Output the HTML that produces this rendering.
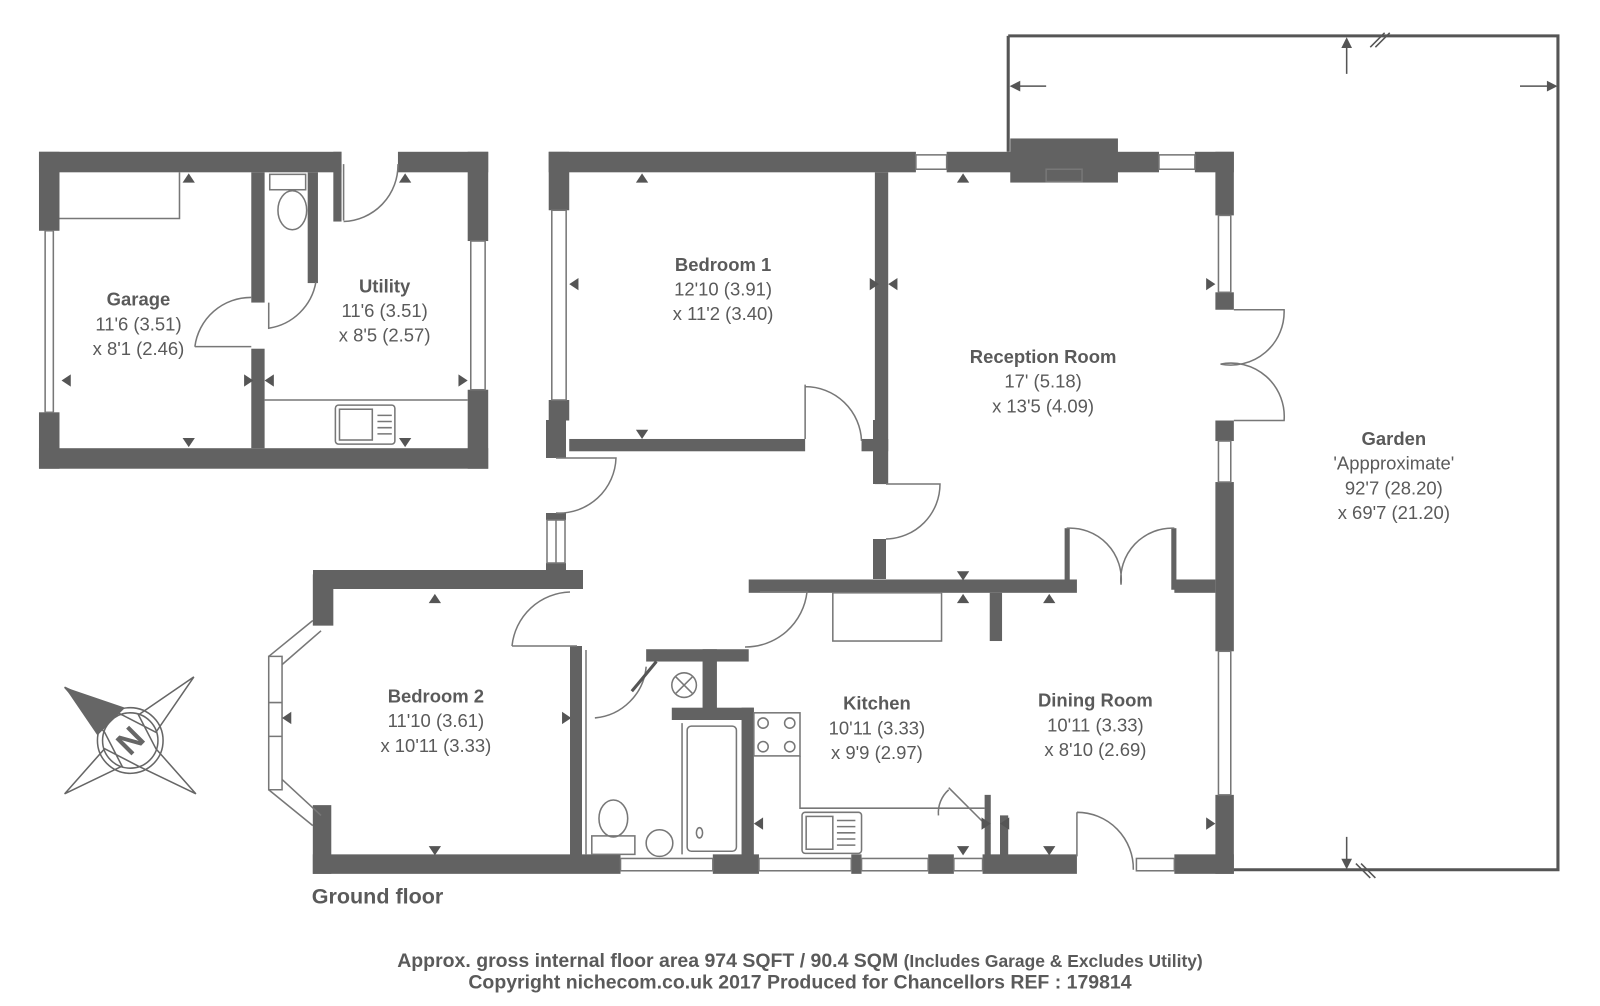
<!DOCTYPE html>
<html><head><meta charset="utf-8"><style>
html,body{margin:0;padding:0;background:#fff;}
svg{display:block;}
text{font-family:"Liberation Sans",sans-serif;fill:#5a5a5a;}
.t{font-size:18px;font-weight:bold;}
.d{font-size:18px;}
</style></head><body>
<svg width="1600" height="1006" viewBox="0 0 1600 1006" xmlns="http://www.w3.org/2000/svg">
<defs>
<path id="au" d="M-6 0 L6 0 L0 -9Z"/>
</defs>
<g transform="scale(1.02564)">
<g fill="#626262">
<rect x="38" y="148" width="295" height="20"/>
<rect x="388" y="148" width="88" height="20"/>
<rect x="38" y="148" width="20" height="77"/>
<rect x="38" y="402" width="20" height="55"/>
<rect x="38" y="437" width="438" height="20"/>
<rect x="456" y="148" width="20" height="87"/>
<rect x="456" y="380" width="20" height="77"/>
<rect x="245" y="168" width="13" height="127"/>
<rect x="245" y="340" width="13" height="97"/>
<rect x="300" y="168" width="10" height="108"/>
<rect x="325" y="148" width="8" height="68"/>
<rect x="535" y="148" width="358" height="20"/>
<rect x="923" y="148" width="207" height="20"/>
<rect x="1165" y="148" width="38" height="20"/>
<rect x="985" y="135" width="105" height="43"/>
<rect x="535" y="148" width="20" height="57"/>
<rect x="535" y="390" width="20" height="20"/>
<rect x="555" y="428" width="230" height="12"/>
<rect x="840" y="428" width="26" height="12"/>
<rect x="853" y="168" width="13" height="304"/>
<rect x="1185" y="148" width="18" height="62"/>
<rect x="1185" y="285" width="18" height="17"/>
<rect x="1185" y="410" width="18" height="20"/>
<rect x="1185" y="470" width="18" height="165"/>
<rect x="1185" y="775" width="18" height="77"/>
<rect x="305" y="560" width="20" height="50"/>
<rect x="305" y="785" width="18" height="67"/>
<rect x="305" y="833" width="300" height="19"/>
<rect x="730" y="565" width="320" height="13"/>
<rect x="1145" y="565" width="40" height="13"/>
<rect x="965" y="578" width="12" height="47"/>
<rect x="1038" y="515" width="5" height="60"/>
<rect x="1142" y="515" width="5" height="60"/>
<rect x="630" y="633" width="100" height="12"/>
<rect x="685" y="633" width="14" height="60"/>
<rect x="655" y="690" width="80" height="12"/>
<rect x="723" y="690" width="12" height="145"/>
<rect x="695" y="833" width="45" height="19"/>
<rect x="830" y="833" width="10" height="19"/>
<rect x="905" y="833" width="25" height="19"/>
<rect x="958" y="833" width="92" height="19"/>
<rect x="1145" y="833" width="58" height="19"/>
<rect x="960" y="775" width="6" height="60"/>
<rect x="975" y="795" width="8" height="40"/>
</g>
<g fill="none" stroke="#777" stroke-width="1.5">
<rect x="44" y="225" width="8" height="177"/>
<rect x="459" y="235" width="14" height="145"/>
<rect x="538" y="205" width="14" height="185"/>
<rect x="893" y="151" width="30" height="14"/>
<rect x="1130" y="151" width="35" height="14"/>
<rect x="1188" y="210" width="12" height="75"/>
<rect x="1188" y="430" width="12" height="40"/>
<rect x="1188" y="635" width="12" height="140"/>
<rect x="605" y="837" width="90" height="12"/>
<rect x="740" y="837" width="90" height="12"/>
<rect x="840" y="837" width="65" height="12"/>
<rect x="930" y="837" width="28" height="12"/>
<rect x="1108" y="837" width="37" height="12"/>
<rect x="1020" y="165" width="35" height="12"/>
<path d="M262 640 L275 640 L275 770 L262 770Z M262 685 L275 685 M262 718 L275 718"/>
<path d="M262 640 L305 605 M275 648 L313 615 M262 770 L305 805 M275 760 L313 795"/>
<path d="M58 213 L175 213 L175 168"/>
<rect x="263" y="170" width="35" height="15"/>
<ellipse cx="285" cy="205" rx="14" ry="19"/>
<path d="M258 390 L456 390"/>
<rect x="327" y="395" width="58" height="38" rx="3"/><rect x="331" y="399" width="32" height="30"/>
<path d="M368 405 h14 M368 411 h14 M368 417 h14 M368 423 h14"/>
<path d="M190 338 L245 338 M190 338 A55 55 0 0 1 245 290"/>
<path d="M262 295 L262 320 A55 55 0 0 0 308 275"/>
<path d="M335 215 L335 160 M335 216 A55 55 0 0 0 388 160"/>
<path d="M785 428 L785 375 M785 377 A55 55 0 0 1 840 430"/>
<path d="M1203 302 L1252 302 A52 52 0 0 1 1190 355 M1203 410 L1252 410 A52 52 0 0 0 1190 355"/>
<path d="M1040 515 A50 50 0 0 1 1093 570 M1145 515 A50 50 0 0 0 1093 570"/>
<rect x="812" y="578" width="106" height="47"/>
<path d="M580 700 A55 55 0 0 0 630 650"/>
<path d="M640 645 L616 674" stroke-width="3" stroke="#555"/>
<circle cx="667" cy="668" r="12"/><path d="M659 660 L675 676 M675 660 L659 676"/>
<rect x="670" y="708" width="48" height="122" rx="4"/>
<ellipse cx="682" cy="812" rx="3" ry="5"/>
<path d="M665 705 L665 833"/>
<rect x="735" y="695" width="45" height="42"/>
<circle cx="744" cy="705" r="5"/><circle cx="770" cy="705" r="5"/><circle cx="744" cy="728" r="5"/><circle cx="770" cy="728" r="5"/>
<path d="M780 737 L780 788 L960 788"/>
<rect x="782" y="792" width="58" height="40" rx="3"/><rect x="786" y="796" width="26" height="32"/>
<path d="M816 800 h18 M816 806 h18 M816 812 h18 M816 818 h18 M816 824 h18"/>
<ellipse cx="598" cy="798" rx="14" ry="18"/><rect x="577" y="815" width="42" height="18"/>
<circle cx="643" cy="822" r="13"/>
<path d="M1050 792 A55 55 0 0 1 1105 848 M1050 792 L1050 835"/>
<path d="M925 768 L962 805 M925 770 A30 30 0 0 0 915 795"/>
</g>
<g fill="none" stroke="#555" stroke-width="3">
<path d="M983 35 L1519 35 L1519 848 L1203 848 M983 35 L983 148"/>
</g>
<g stroke="#555" stroke-width="1.5" fill="#555">
<path d="M990 84 L1020 84 M1482 84 L1513 84 M1313 40 L1313 72 M1313 816 L1313 844"/>
<path d="M986 84 l8 -4 v8z M1517 84 l-8 -4 v8z M1313 38 l-4 8 h8z M1313 846 l-4 -8 h8z"/>
<path d="M1336 46 l14 -14 M1341 46 l14 -14 M1336 856 l-14 -14 M1341 856 l-14 -14" fill="none"/>
</g>
<g fill="#555">
<use href="#au" x="184" y="178"/><use href="#au" x="626" y="178"/><use href="#au" x="939" y="178"/><use href="#au" x="395" y="178"/>
<use href="#au" x="424" y="588"/><use href="#au" x="939" y="588"/><use href="#au" x="1023" y="588"/>
<g transform="rotate(180)"><use href="#au" x="-184" y="-427"/><use href="#au" x="-395" y="-427"/><use href="#au" x="-626" y="-419"/><use href="#au" x="-939" y="-557"/><use href="#au" x="-424" y="-825"/><use href="#au" x="-1023" y="-825"/><use href="#au" x="-939" y="-825"/></g>
<path d="M60 371 l9 -6 v12z M247 371 l-9 -6 v12z M258 371 l9 -6 v12z M456 371 l-9 -6 v12z"/>
<path d="M555 277 l9 -6 v12z M857 277 l-9 -6 v12z M866 277 l9 -6 v12z M1185 277 l-9 -6 v12z"/>
<path d="M275 700 l9 -6 v12z M557 700 l-9 -6 v12z M735 803 l9 -6 v12z M966 803 l-9 -6 v12z M975 803 l9 -6 v12z M1185 803 l-9 -6 v12z"/>
</g>
<g transform="translate(127,722)">
<g fill="none" stroke="#666" stroke-width="1.5">
<path d="M-64 -52 L-8 -25 L25 -8 L62 -62 L8 -25 L25 8 L64 52 L8 25 L-25 8 L-64 52 L-8 25 L-25 -8Z"/>
<circle r="32"/><circle r="27"/>
</g>
<path d="M-64 -52 L-5 -32 L-32 -5Z" fill="#666"/>
<text x="0" y="11" text-anchor="middle" transform="rotate(-45)" style="font-size:32px;font-weight:bold;fill:#666">N</text>
</g>
<text class="t" x="135" y="298" text-anchor="middle">Garage</text>
<text class="d" x="135" y="322" text-anchor="middle">11'6 (3.51)</text>
<text class="d" x="135" y="346" text-anchor="middle">x 8'1 (2.46)</text>
<text class="t" x="375" y="285" text-anchor="middle">Utility</text>
<text class="d" x="375" y="309" text-anchor="middle">11'6 (3.51)</text>
<text class="d" x="375" y="333" text-anchor="middle">x 8'5 (2.57)</text>
<text class="t" x="705" y="264" text-anchor="middle">Bedroom 1</text>
<text class="d" x="705" y="288" text-anchor="middle">12'10 (3.91)</text>
<text class="d" x="705" y="312" text-anchor="middle">x 11'2 (3.40)</text>
<text class="t" x="1017" y="354" text-anchor="middle">Reception Room</text>
<text class="d" x="1017" y="378" text-anchor="middle">17' (5.18)</text>
<text class="d" x="1017" y="402" text-anchor="middle">x 13'5 (4.09)</text>
<text class="t" x="1359" y="434" text-anchor="middle">Garden</text>
<text class="d" x="1359" y="458" text-anchor="middle">'Appproximate'</text>
<text class="d" x="1359" y="482" text-anchor="middle">92'7 (28.20)</text>
<text class="d" x="1359" y="506" text-anchor="middle">x 69'7 (21.20)</text>
<text class="t" x="425" y="685" text-anchor="middle">Bedroom 2</text>
<text class="d" x="425" y="709" text-anchor="middle">11'10 (3.61)</text>
<text class="d" x="425" y="733" text-anchor="middle">x 10'11 (3.33)</text>
<text class="t" x="855" y="692" text-anchor="middle">Kitchen</text>
<text class="d" x="855" y="716" text-anchor="middle">10'11 (3.33)</text>
<text class="d" x="855" y="740" text-anchor="middle">x 9'9 (2.97)</text>
<text class="t" x="1068" y="689" text-anchor="middle">Dining Room</text>
<text class="d" x="1068" y="713" text-anchor="middle">10'11 (3.33)</text>
<text class="d" x="1068" y="737" text-anchor="middle">x 8'10 (2.69)</text>
<text x="304" y="881" style="font-size:21px;font-weight:bold">Ground floor</text>
<text x="780" y="943" text-anchor="middle" style="font-size:19px;font-weight:bold">Approx. gross internal floor area 974 SQFT / 90.4 SQM <tspan style="font-size:17px">(Includes Garage &amp; Excludes Utility)</tspan></text>
<text x="780" y="964" text-anchor="middle" style="font-size:19px;font-weight:bold">Copyright nichecom.co.uk 2017 Produced for Chancellors REF : 179814</text>
</g>
<g fill="#626262">
<rect x="313" y="570" width="270" height="19"/>
<rect x="546" y="420" width="20" height="38"/>
<rect x="546" y="513" width="20" height="7"/>
<rect x="546" y="563" width="20" height="12"/>
<rect x="570" y="646" width="12" height="210"/>
<rect x="873" y="420" width="13" height="64"/>
<rect x="873" y="539" width="13" height="40"/>
</g>
<g fill="none" stroke="#777" stroke-width="1.5">
<rect x="547" y="520" width="18" height="43"/><path d="M556 520 V563"/>
<path d="M586 650 V855"/>
<path d="M556 458 L616 458 A57 57 0 0 1 556 513"/>
<path d="M512 646 L577 646 M512 646 A60 60 0 0 1 570 592"/>
<path d="M760 592 L807 592 A62 62 0 0 1 745 647"/>
<path d="M886 484 L940 484 A55 55 0 0 1 886 539"/>
</g>
</svg>
</body></html>
